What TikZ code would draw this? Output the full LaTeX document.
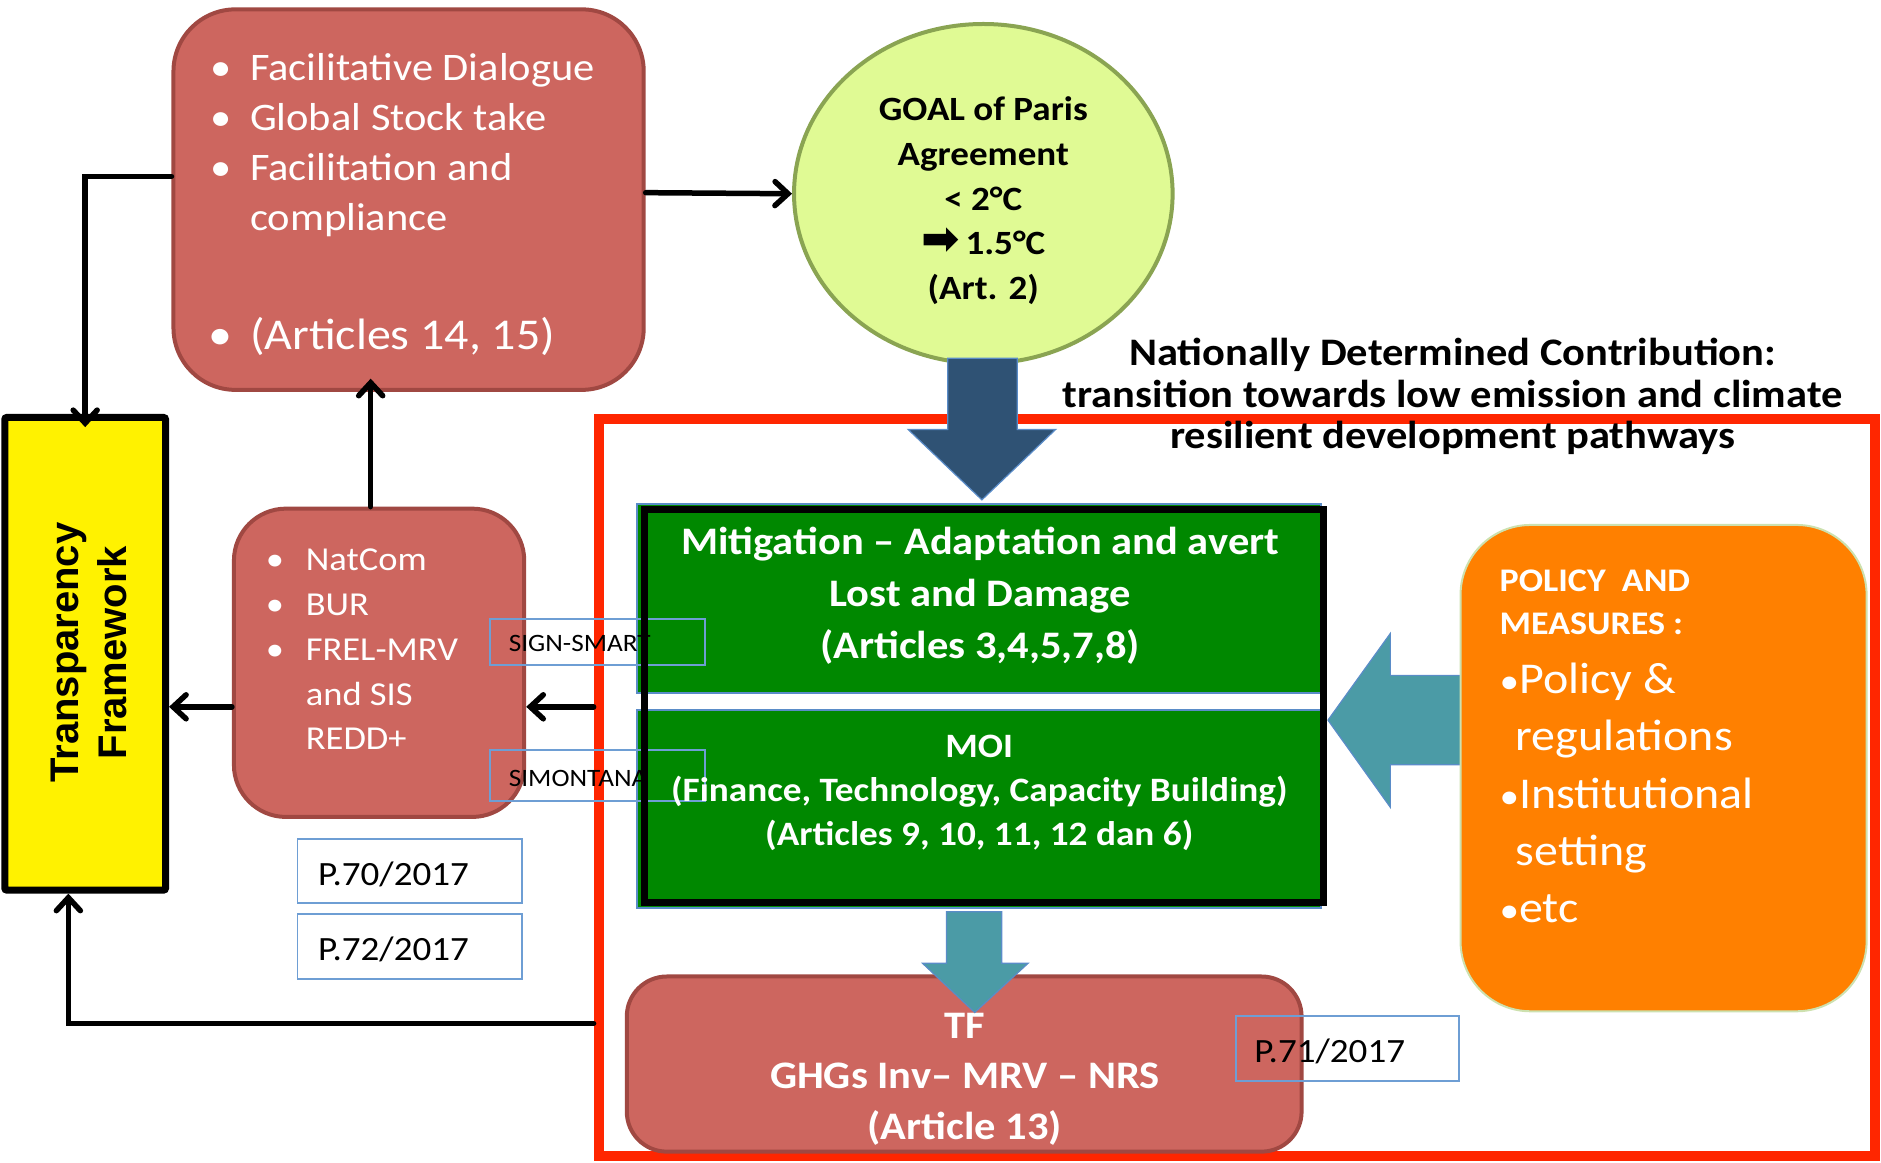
\documentclass[tikz,border=0pt]{standalone}
\usepackage{fontspec}
\setmainfont{Carlito}[FakeStretch=1.09]
\newfontfamily\framefont{Liberation Sans}
\newfontfamily\symbolfont{DejaVu Sans}
\usetikzlibrary{shapes.geometric,arrows.meta,fit,calc}

\definecolor{boxred}{RGB}{205,102,95}
\definecolor{boxredline}{RGB}{160,72,66}
\definecolor{goalfill}{RGB}{224,250,148}
\definecolor{goalline}{RGB}{138,164,82}
\definecolor{actiongreen}{RGB}{0,136,0}
\definecolor{policyorange}{RGB}{255,128,0}
\definecolor{policyline}{RGB}{205,225,175}
\definecolor{arrowteal}{RGB}{75,155,166}
\definecolor{arrownavy}{RGB}{47,82,116}
\definecolor{arrowedge}{RGB}{90,140,200}
\definecolor{framered}{RGB}{255,38,0}
\definecolor{labelblue}{RGB}{110,158,212}

\tikzset{
  redbox/.style={fill=boxred, draw=boxredline, line width=4pt, inner sep=0pt},
  greenbox/.style={fill=actiongreen, draw=arrowedge, line width=1.5pt, inner sep=0pt},
  labelbox/.style={draw=labelblue, line width=1.8pt, inner sep=0pt},
  wtext/.style={inner sep=0pt, text=white},
  btext/.style={inner sep=0pt, text=black},
  conn/.style={line width=5.5pt, draw=black, line cap=round,
    -{Straight Barb[length=13pt,width=24pt,line cap=round]}},
  blockarrow/.style={draw=arrowedge, line width=1.2pt}
}
\newcommand{\bul}[1]{\llap{\makebox[0pt][c]{•}\hspace{#1}}}

\begin{document}
\begin{tikzpicture}[x=1.2pt,y=-1.2pt]
\useasboundingbox (0,0) rectangle (1568,969);

% NDC frame and its title
\node[draw=framered, line width=10pt, inner sep=0pt, fit={(499,349.5)(1563,964)}] (ndc) {};
\node[btext, font=\bfseries\fontsize{39}{41.6}\selectfont, align=center] (ndctitle) at (1211,330.6)
  {Nationally Determined Contribution:\\transition towards low emission and climate\\resilient development pathways};

% Facilitative dialogue box
\node[redbox, rounded corners=62pt, fit={(144.6,7.8)(536.6,325)}] (facil) {};
\node[wtext, anchor=west, align=left, font=\fontsize{39}{50}\selectfont] (faciltext) at (208.3,120.8)
  {\bul{29.5pt}Facilitative Dialogue\\\bul{29.5pt}Global Stock take\\\bul{29.5pt}Facilitation and\\compliance};
\node[wtext, anchor=west, font=\fontsize{44}{50}\selectfont] (facilart) at (208.3,280.6)
  {\bul{29.5pt}(Articles 14, 15)};

% Goal ellipse
\node[ellipse, fill=goalfill, draw=goalline, line width=4pt, inner sep=0pt,
      minimum width=378.7pt, minimum height=339.6pt] (goal) at (819.7,161.5) {};
\node[btext, font=\bfseries\fontsize{34}{44.6}\selectfont, align=center] (goaltext) at (819.7,167.3)
  {GOAL of Paris\\Agreement\\< 2°C\\{\symbolfont\fontsize{46}{44.6}\selectfont ➡}\,1.5°C\\(Art. 2)};

% Transparency framework
\node[fill=yellow, draw=black, line width=7pt, rounded corners=2pt, inner sep=0pt, fit={(4,348)(138,742)}] (tfw) {};
\node[btext, rotate=90, font=\framefont\bfseries\fontsize{40}{48}\selectfont, align=center] (tfwtext) at (74,544)
  {Transparency\\Framework};

% National reporting box
\node[redbox, rounded corners=52pt, fit={(195,424)(437,681)}] (natcom) {};
\node[wtext, anchor=west, align=left, font=\fontsize{33.5}{44.8}\selectfont] (natcomtext) at (254.8,541.3)
  {\bul{31pt}NatCom\\\bul{31pt}BUR\\\bul{31pt}FREL-MRV\\and SIS\\REDD+};

% Regulation labels
\node[labelbox, fit={(248,699.6)(435,752.5)}] (p70) {};
\node[btext, anchor=west, font=\fontsize{34}{40}\selectfont] (p70text) at (265,729) {P.70/2017};
\node[labelbox, fit={(248,762)(435,816)}] (p72) {};
\node[btext, anchor=west, font=\fontsize{34}{40}\selectfont] (p72text) at (265,791.8) {P.72/2017};

% Arrow from the goal into the NDC
\draw[blockarrow, fill=arrownavy] (790,298.6) -- (848,298.6) -- (848,358) -- (880,358)
  -- (818.5,416.7) -- (757,358) -- (790,358) -- cycle;

% Mitigation / MOI block
\node[greenbox, fit={(531,420)(1101,577.6)}] (mitig) {};
\node[greenbox, fit={(531,591.7)(1101,757)}] (moi) {};
\node[labelbox, fit={(408.5,516)(588,554.6)}] (sign) {};
\node[btext, anchor=west, font=\fontsize{25}{30}\selectfont] (signtext) at (424,536) {SIGN-SMART};
\node[labelbox, fit={(408.5,625.5)(588,668)}] (simon) {};
\node[btext, anchor=west, font=\fontsize{25}{30}\selectfont] (simontext) at (424,649) {SIMONTANA};
\node[draw=black, line width=7pt, inner sep=0pt, fit={(537,425)(1103,752)}] (action) {};
\node[wtext, font=\bfseries\fontsize{39}{51.8}\selectfont, align=center] (mitigtext) at (817,496.5)
  {Mitigation – Adaptation and avert\\Lost and Damage\\(Articles 3,4,5,7,8)};
\node[wtext, font=\bfseries\fontsize{34.2}{44.4}\selectfont, align=center] (moitext) at (816.3,661)
  {MOI\\(Finance, Technology, Capacity Building)\\(Articles 9, 10, 11, 12 dan 6)};

% Policy and measures
\draw[blockarrow, fill=arrowteal] (1219,563) -- (1159,563) -- (1159,528) -- (1107,600.3)
  -- (1159,673) -- (1159,637.5) -- (1219,637.5) -- cycle;
\node[fill=policyorange, draw=policyline, line width=2pt, rounded corners=70pt, inner sep=0pt,
      fit={(1217.5,437.6)(1556,843)}] (policy) {};
\node[wtext, anchor=west, align=left, font=\bfseries\fontsize{33}{43.2}\selectfont] (policyhead) at (1250,502)
  {POLICY\ \ AND\\MEASURES :};
\node[wtext, anchor=west, align=left, font=\fontsize{44}{57.1}\selectfont] (policylist) at (1250,661)
  {{\fontsize{36}{36}\selectfont•}Policy \&\\\hspace*{16pt}regulations\\{\fontsize{36}{36}\selectfont•}Institutional\\\hspace*{16pt}setting\\{\fontsize{36}{36}\selectfont•}etc};

% Transparency framework of the agreement
\node[redbox, rounded corners=40pt, fit={(522.5,814)(1085,960)}] (tf) {};
\node[wtext, font=\bfseries\fontsize{39}{50.6}\selectfont, align=center] (tftext) at (804.3,899.5)
  {TF\\GHGs Inv– MRV – NRS\\(Article 13)};
\draw[blockarrow, fill=arrowteal] (789,760) -- (835,760) -- (835,803) -- (857,803)
  -- (812.5,844) -- (769,803) -- (789,803) -- cycle;
\node[labelbox, fit={(1030,847)(1216,901)}] (p71) {};
\node[btext, anchor=west, font=\fontsize{34}{40}\selectfont] (p71text) at (1045.4,876.5) {P.71/2017};

% Connectors
\draw[conn] ($(facil.east)+(0,-5.8)$) -- (goal.west);
\coordinate (facilout) at ($(facil.west)+(0,-19.4)$);
\coordinate (tfwtop) at ($(tfw.north)+(0,11)$);
\draw[conn] (facilout) -| (tfwtop);
\coordinate (natup) at ($(natcom.north)+(-7,0)$);
\coordinate (facilin) at ($(facil.south)+(0,-11)$);
\draw[conn] (natup) -- (natup |- facilin);
\coordinate (natleft) at ($(natcom.west)+(0,36.7)$);
\draw[conn] (natleft) -- (natleft -| tfw.east);
\coordinate (natright) at ($(natcom.east)+(0,36.7)$);
\draw[conn] (natright -| ndc.west) -- (natright);
\coordinate (ndcout) at ($(ndc.west)+(0,196.3)$);
\coordinate (tfwbottom) at ($(tfw.south)+(-14,0)$);
\draw[conn] (ndcout) -| (tfwbottom);
\end{tikzpicture}
\end{document}
